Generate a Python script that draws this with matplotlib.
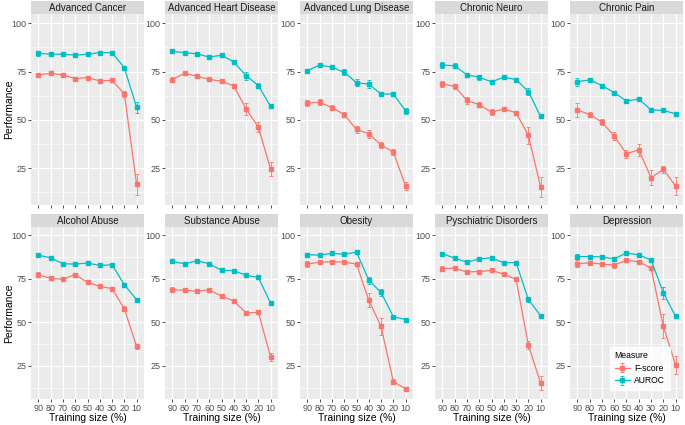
import numpy as np
import matplotlib
matplotlib.use('Agg')
from matplotlib import pyplot as plt
from matplotlib.ticker import MultipleLocator

plt.rcParams['font.family'] = ['Liberation Sans', 'DejaVu Sans']

sizes = [90, 80, 70, 60, 50, 40, 30, 20, 10]
titles = ['Advanced Cancer', 'Advanced Heart Disease', 'Advanced Lung Disease', 'Chronic Neuro', 'Chronic Pain',
          'Alcohol Abuse', 'Substance Abuse', 'Obesity', 'Pyschiatric Disorders', 'Depression']

# AUROC means and error half-widths
auroc = [
    [84.5, 84.0, 84.0, 83.5, 84.0, 84.8, 84.8, 77.0, 56.5],
    [85.5, 84.8, 84.2, 82.5, 83.5, 80.0, 72.9, 67.8, 57.0],
    [75.5, 78.4, 77.3, 74.6, 69.3, 68.5, 63.4, 63.4, 54.7],
    [78.4, 78.0, 73.3, 72.1, 69.7, 72.1, 70.9, 64.7, 51.8],
    [69.8, 70.7, 67.8, 64.1, 59.8, 60.8, 55.2, 54.9, 53.2],
    [88.6, 87.1, 83.7, 83.5, 84.1, 82.7, 83.1, 71.7, 63.0],
    [85.0, 83.7, 85.4, 83.7, 79.9, 79.7, 77.1, 75.8, 61.0],
    [88.9, 88.6, 89.7, 89.1, 90.4, 74.3, 67.2, 53.3, 51.6],
    [89.5, 86.9, 84.6, 86.5, 87.1, 84.2, 84.4, 63.2, 53.8],
    [87.8, 87.8, 87.6, 86.5, 89.9, 88.7, 85.9, 67.0, 53.5],
]
auroc_err = [
    [1.2, 1.0, 0.8, 0.8, 1.0, 0.6, 0.6, 1.0, 2.7],
    [0.8, 0.6, 0.6, 1.0, 0.8, 0.8, 2.0, 1.5, 1.0],
    [1.0, 1.2, 1.0, 1.5, 2.0, 2.0, 1.2, 1.2, 1.5],
    [1.5, 1.2, 1.0, 1.2, 1.0, 0.8, 1.0, 2.0, 0.6],
    [2.0, 1.0, 1.0, 1.0, 1.0, 1.2, 1.0, 0.6, 1.0],
    [1.2, 0.6, 0.6, 0.6, 0.6, 0.8, 0.6, 1.2, 0.8],
    [1.0, 0.8, 0.6, 0.6, 0.6, 0.6, 0.6, 0.6, 1.0],
    [0.8, 0.6, 0.6, 0.8, 0.6, 2.0, 2.0, 0.6, 0.8],
    [0.8, 0.8, 0.6, 0.6, 0.6, 0.6, 0.6, 1.5, 1.0],
    [1.5, 1.2, 1.0, 1.0, 0.6, 0.6, 0.8, 3.5, 0.8],
]
# F-score means and error half-widths
fscore = [
    [73.3, 74.1, 73.3, 71.4, 71.9, 70.2, 70.5, 63.5, 16.7],
    [70.9, 74.1, 72.6, 71.0, 70.0, 67.6, 55.7, 46.3, 24.5],
    [58.8, 59.1, 56.4, 52.8, 45.1, 42.9, 37.0, 33.4, 15.8],
    [68.7, 67.3, 60.1, 57.9, 54.0, 55.7, 53.7, 42.1, 15.3],
    [55.2, 52.8, 48.9, 41.6, 32.5, 34.6, 20.1, 24.4, 15.8],
    [77.3, 75.4, 74.7, 77.5, 73.0, 70.7, 69.4, 57.8, 36.2],
    [68.7, 68.5, 67.9, 68.7, 65.1, 62.3, 55.5, 55.7, 30.2],
    [83.5, 84.6, 84.8, 84.6, 83.5, 62.7, 47.7, 16.0, 11.8],
    [80.9, 81.1, 79.0, 79.2, 79.9, 77.7, 74.7, 37.1, 15.0],
    [83.7, 84.2, 83.5, 82.9, 85.7, 84.8, 81.2, 47.8, 25.5],
]
fscore_err = [
    [1.2, 0.8, 1.0, 0.6, 1.0, 0.6, 0.6, 1.5, 5.5],
    [1.5, 0.6, 0.6, 0.8, 0.6, 0.8, 3.0, 2.5, 3.5],
    [1.5, 1.5, 1.5, 1.2, 2.0, 2.0, 1.5, 1.5, 2.0],
    [1.5, 1.5, 2.0, 1.2, 1.5, 1.0, 1.0, 4.5, 5.0],
    [3.5, 1.5, 1.5, 2.0, 2.0, 3.0, 4.0, 2.0, 4.5],
    [1.5, 1.0, 0.6, 0.6, 0.6, 0.6, 0.6, 1.5, 1.5],
    [1.5, 1.2, 0.8, 1.0, 0.8, 0.6, 0.8, 1.0, 2.5],
    [1.5, 0.8, 0.6, 0.8, 1.2, 4.0, 5.0, 1.5, 1.0],
    [1.5, 1.0, 0.6, 0.6, 0.6, 0.6, 1.0, 2.5, 4.0],
    [2.0, 1.0, 1.0, 1.5, 0.6, 0.6, 1.0, 7.0, 5.0],
]

W, H = 685, 425
fig = plt.figure(figsize=(W / 100, H / 100), dpi=100)

lefts = [31, 165, 300, 435, 570]
pw = 113
rows = [(14, 205), (227, 399)]  # panel top/bottom in px
strip_h = 13

red = '#F8766D'
cyan = '#00BFC4'
x = np.arange(len(sizes))

for i, title in enumerate(titles):
    r, c = divmod(i, 5)
    top, bot = rows[r]
    ax = fig.add_axes([lefts[c] / W, 1 - bot / H, pw / W, (bot - top) / H])
    ax.set_facecolor('#EBEBEB')
    for s in ax.spines.values():
        s.set_visible(False)
    ax.set_axisbelow(True)
    ax.yaxis.set_major_locator(MultipleLocator(25))
    ax.yaxis.set_minor_locator(MultipleLocator(12.5))
    ax.grid(which='major', color='white', linewidth=0.9)
    ax.grid(which='minor', axis='y', color='white', linewidth=0.45)
    ax.set_xlim(-0.6, 8.6)
    ax.set_ylim(6.0, 104.8)
    ax.set_yticks([25, 50, 75, 100])
    ax.set_xticks(x)
    ax.tick_params(which='minor', length=0)
    ax.tick_params(which='major', length=2.2, width=0.6, color='#333333', labelsize=6.5,
                   labelcolor='#4D4D4D', pad=1.2)

    ax.errorbar(x, fscore[i], yerr=fscore_err[i], color=red, marker='s', markersize=2.2,
                linewidth=0.9, elinewidth=0.6, capsize=1.6, capthick=0.6, label='F-score')
    ax.errorbar(x, auroc[i], yerr=auroc_err[i], color=cyan, marker='s', markersize=2.2,
                linewidth=0.9, elinewidth=0.6, capsize=1.6, capthick=0.6, label='AUROC')

    if r == 1:
        ax.set_xticklabels([str(v) for v in sizes])
        ax.set_xlabel('Training size (%)', fontsize=7.5, color='black', labelpad=0.5)
    else:
        ax.set_xticklabels([])
    if c == 0:
        ax.set_ylabel('Performance', fontsize=7.5, color='black')
        ax.yaxis.set_label_coords(-0.145, 0.5)

    # strip
    sax = fig.add_axes([lefts[c] / W, 1 - top / H, pw / W, strip_h / H])
    sax.set_facecolor('#D9D9D9')
    sax.set_xticks([]), sax.set_yticks([])
    for s in sax.spines.values():
        s.set_visible(False)
    sax.text(0.5, 0.45, title, ha='center', va='center', fontsize=7, color='#1A1A1A',
             transform=sax.transAxes)

    if i == 9:
        leg = ax.legend(title='Measure', loc='lower right', bbox_to_anchor=(0.92, 0.03),
                        fontsize=6.2, title_fontsize=6.2, frameon=True, fancybox=False,
                        handlelength=1.8, borderpad=0.5, labelspacing=0.4, handletextpad=0.5)
        leg.get_frame().set_facecolor('white')
        leg.get_frame().set_edgecolor('white')
        leg._legend_box.align = 'left'

fig.savefig('out.png', dpi=100)
